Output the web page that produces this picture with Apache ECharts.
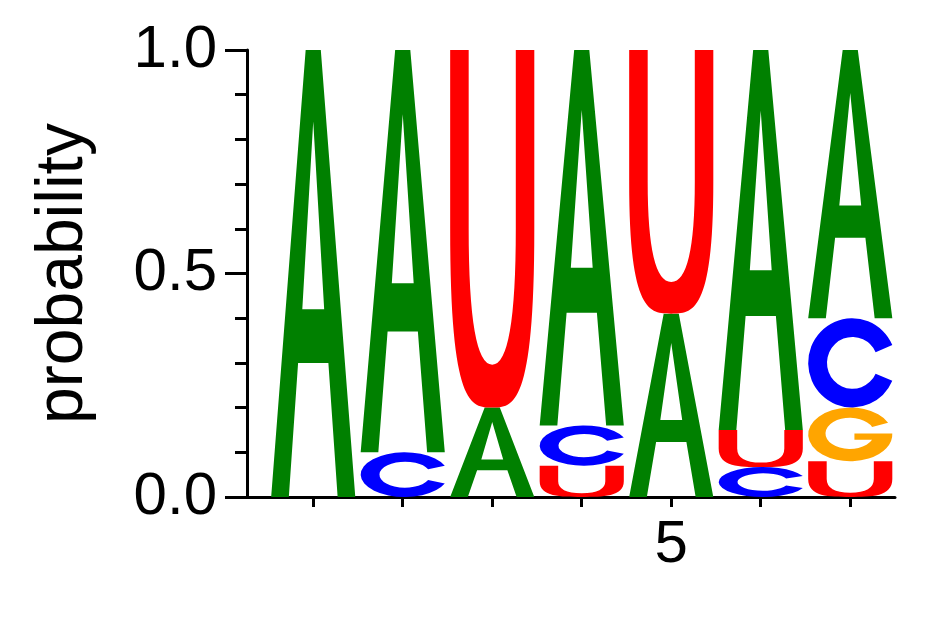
<!DOCTYPE html>
<html><head><meta charset="utf-8">
<script src="https://cdn.jsdelivr.net/npm/echarts@6/dist/echarts.min.js"></script>
<style>html,body{margin:0;padding:0;background:#fff}#c{width:942px;height:617px}</style>
</head><body><div id="c"></div>
<script>
const positions = [1, 2, 3, 4, 5, 6, 7];
// letters stacked bottom to top per position, with probabilities
const columnLetters = [
  ['A'],
  ['C', 'A'],
  ['A', 'U'],
  ['U', 'C', 'A'],
  ['A', 'U'],
  ['C', 'U', 'A'],
  ['U', 'G', 'C', 'A']
];
const columnProbs = [
  [1.0],
  [0.10, 0.90],
  [0.20, 0.80],
  [0.07, 0.09, 0.84],
  [0.41, 0.59],
  [0.067, 0.083, 0.85],
  [0.08, 0.12, 0.20, 0.60]
];
const xTicks = [1, 2, 3, 4, 5, 6, 7];
const xLabels = [5];

const colors = {A: '#008000', C: '#0000ff', G: '#ffa500', U: '#ff0000'};
const paths = {
  A: 'M0,100 L41,0 L59,0 L100,100 L79,100 L68,70 L32,70 L21,100 Z M50,16 L37,58 L63,58 Z',
  U: 'M0,0 L22,0 L22,50 Q22,88 50,88 Q78,88 78,50 L78,0 L100,0 L100,50 C100,100 75,100 50,100 C25,100 0,100 0,50 Z',
  C: 'M95,30 A50,50 0 1 0 95,70 L76,62 A29,29 0 1 1 76,38 Z',
  G: 'M95,30 A50,50 0 1 0 100,50 L55,50 L55,62 L76,62 A29,29 0 1 1 76,38 Z'
};

const data = [];
positions.forEach((p, i) => {
  let y = 0;
  columnLetters[i].forEach((L, j) => {
    const h = columnProbs[i][j];
    data.push([p, y, y + h, L]);
    y += h;
  });
});

const chart = echarts.init(document.getElementById('c'));
chart.setOption({
  animation: false,
  grid: {left: 247, top: 50, right: 47, bottom: 120},
  xAxis: {
    type: 'value', min: 0.26, max: 7.5,
    splitLine: {show: false},
    axisLine: {lineStyle: {color: '#000', width: 3}},
    axisTick: {show: true, customValues: xTicks, length: 10, lineStyle: {color: '#000', width: 3}},
    axisLabel: {customValues: xLabels, color: '#000', fontSize: 60, fontFamily: 'Liberation Sans', margin: 18}
  },
  yAxis: {
    type: 'value', min: 0, max: 1, interval: 0.5,
    name: 'probability', nameLocation: 'middle', nameGap: 150,
    nameTextStyle: {color: '#000', fontSize: 66, fontFamily: 'Liberation Sans'},
    splitLine: {show: false},
    axisLine: {show: true, lineStyle: {color: '#000', width: 3}},
    axisTick: {show: true, length: 22, lineStyle: {color: '#000', width: 3}},
    minorTick: {show: true, splitNumber: 5, length: 12, lineStyle: {color: '#000', width: 3}},
    axisLabel: {color: '#000', fontSize: 60, fontFamily: 'Liberation Sans', margin: 30,
      formatter: v => v.toFixed(1)}
  },
  series: [{
    type: 'custom',
    data: data,
    renderItem: (params, api) => {
      const p = api.value(0), y0 = api.value(1), y1 = api.value(2);
      const L = data[params.dataIndex][3];
      const tl = api.coord([p - 0.47, y1]);
      const br = api.coord([p + 0.47, y0]);
      return {
        type: 'path',
        shape: {pathData: paths[L], x: tl[0], y: tl[1], width: br[0] - tl[0], height: br[1] - tl[1], layout: 'cover'},
        style: {fill: colors[L]}
      };
    }
  }]
});
</script></body></html>
